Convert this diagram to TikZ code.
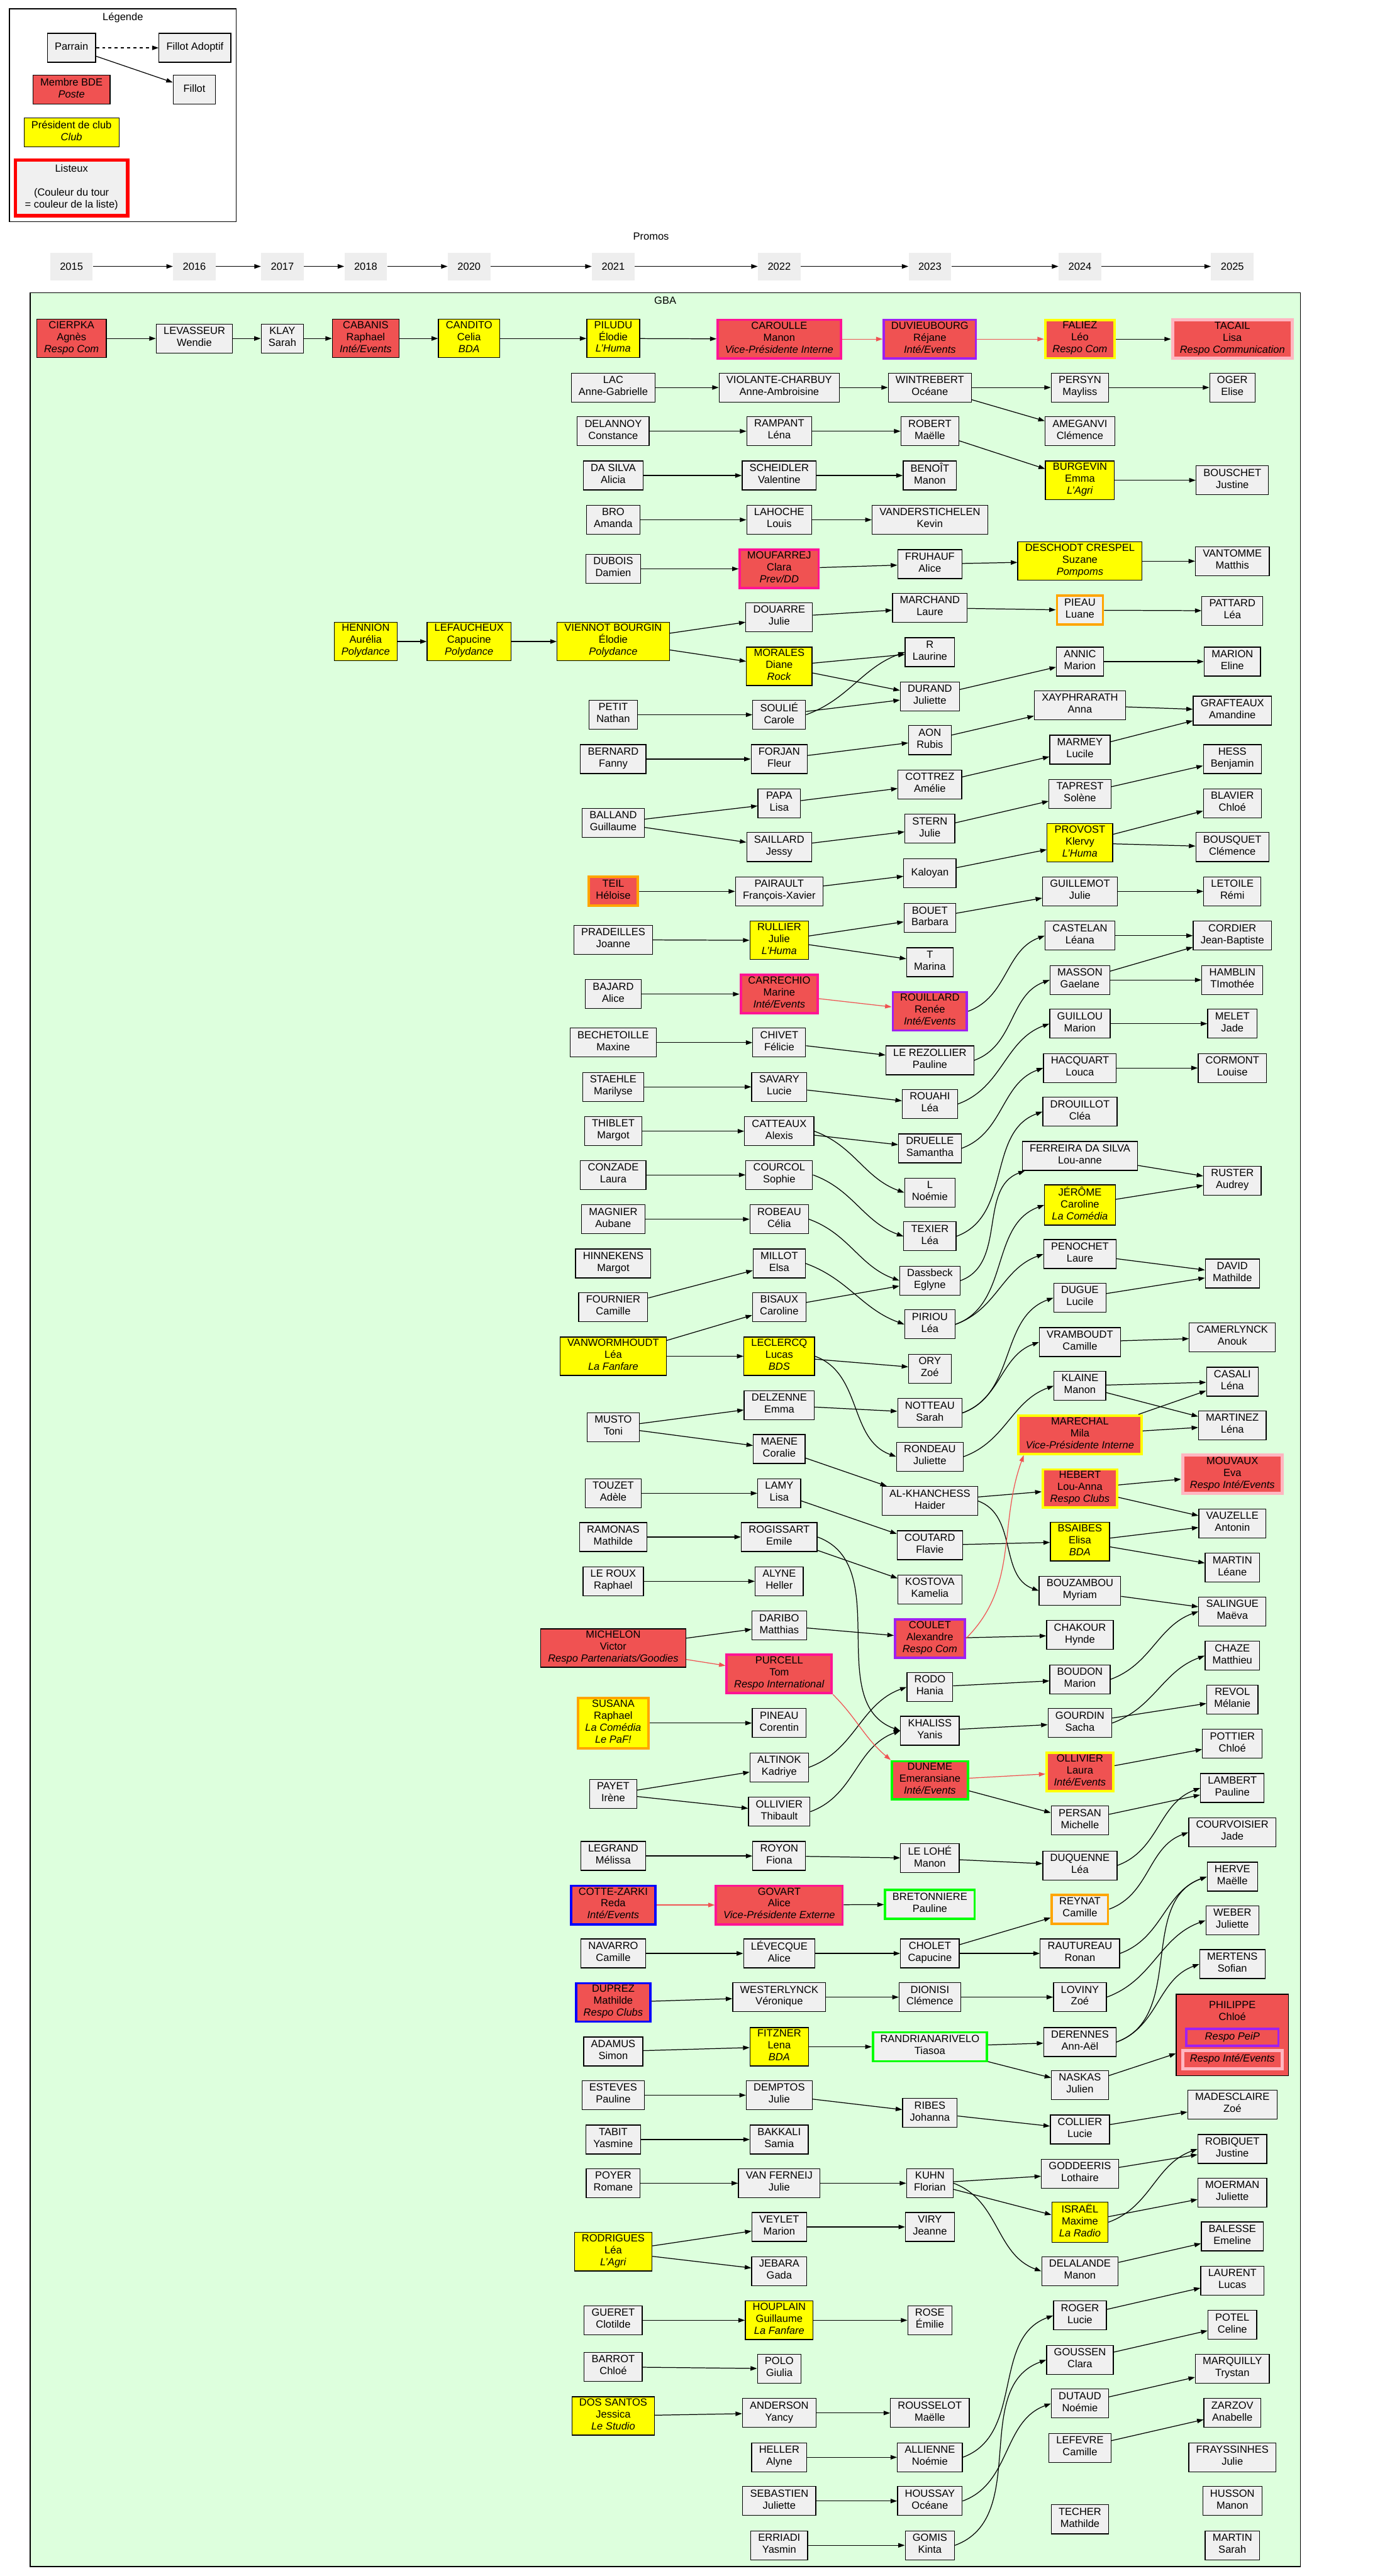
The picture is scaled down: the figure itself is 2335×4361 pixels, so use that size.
\documentclass[tikz,border=0pt]{standalone}
\usepackage{fontspec}
\setmainfont{Liberation Sans}
\usetikzlibrary{arrows.meta}
\definecolor{gbagreen}{RGB}{221,255,221}
\definecolor{boxgray}{RGB}{240,240,240}
\definecolor{promogray}{RGB}{238,238,238}
\definecolor{bdered}{RGB}{240,82,82}
\definecolor{clubyellow}{RGB}{255,255,0}
\definecolor{vppink}{RGB}{255,20,147}
\definecolor{listpurple}{RGB}{160,32,240}
\definecolor{listpink}{RGB}{255,182,193}
\definecolor{listorange}{RGB}{255,165,0}
\definecolor{listblue}{RGB}{0,0,255}
\definecolor{listgreen}{RGB}{0,255,0}
\definecolor{listred}{RGB}{255,0,0}
\newcommand{\gbafont}{\fontsize{10}{11.5}\selectfont}
\tikzset{
  person/.style     = {draw, line width=0.75pt, fill=boxgray, font=\gbafont, align=center,
                       minimum width=1.44cm, minimum height=0.98cm, inner xsep=0.25cm, inner ysep=1.8pt,
                       execute at begin node=\strut, execute at end node=\strut},
  bde/.style        = {person, fill=bdered},
  club/.style       = {person, fill=clubyellow},
  ringvp/.style     = {draw=vppink, line width=2.3pt},
  ringpurple/.style = {draw=listpurple, line width=2.3pt},
  ringyellow/.style = {draw=clubyellow, line width=2.3pt},
  ringpink/.style   = {draw=listpink, line width=3pt},
  ringorange/.style = {draw=listorange, line width=2.3pt},
  ringblue/.style   = {draw=listblue, line width=2.3pt},
  ringgreen/.style  = {draw=listgreen, line width=2.3pt},
  ringred/.style    = {draw=listred, line width=3.4pt},
  promo/.style      = {fill=promogray, font=\gbafont, minimum width=1.44cm, minimum height=0.94cm},
  filarrow/.style   = {-{Triangle[length=0.22cm,width=0.15cm]}, line width=0.75pt},
  bdearrow/.style   = {filarrow, draw=bdered},
  cup/.style        = {out=20, in=200},
  cdown/.style      = {out=-20, in=160},
}
\begin{document}
\begin{tikzpicture}[x=0.02cm, y=-0.02cm]
  \useasboundingbox (0,0) rectangle (2335,4361);

  % legend
  \draw[line width=0.75pt, fill=white] (16,15) rectangle (400,375);
  \node[font=\gbafont] (legendtitle) at (208,30) {Légende};
  \node[person] (parrain) at (121,81) {Parrain};
  \node[person] (fillotadoptif) at (330,81) {Fillot Adoptif};
  \node[person] (fillot) at (329,152) {Fillot};
  \node[bde] (membrebde) at (121,152) {Membre BDE\\\textit{Poste}};
  \node[club] (presclub) at (121,224) {Président de club\\\textit{Club}};
  \node[person, ringred, minimum width=3.8cm, minimum height=1.88cm] (listeux) at (121,318)
    {Listeux\\\mbox{}\\(Couleur du tour\\= couleur de la liste)};
  \draw[filarrow, dashed] (parrain) -- (fillotadoptif);
  \draw[filarrow] (parrain) -- (fillot);

  % promos
  \node[font=\gbafont] (promoslabel) at (1102,400) {Promos};
  \foreach \yr/\px in {2015/121, 2016/329, 2017/478, 2018/619, 2020/794, 2021/1038,
                       2022/1319, 2023/1574, 2024/1828, 2025/2086}
    \node[promo] (p\yr) at (\px,451) {\yr};
  \foreach \a/\b in {2015/2016, 2016/2017, 2017/2018, 2018/2020, 2020/2021,
                     2021/2022, 2022/2023, 2023/2024, 2024/2025}
    \draw[filarrow] (p\a) -- (p\b);

  % GBA cluster
  \draw[line width=0.75pt, fill=gbagreen] (51,496) rectangle (2201,4345);
  \node[font=\gbafont] (gbalabel) at (1126,509) {GBA};

  % 2015 - 2020
  \node[bde] (cierpka) at (121,573) {CIERPKA\\Agnès\\\textit{Respo Com}};
  \node[person] (levasseur) at (329,573) {LEVASSEUR\\Wendie};
  \node[person] (klay) at (478,573) {KLAY\\Sarah};
  \node[bde] (cabanis) at (619,573) {CABANIS\\Raphael\\\textit{Inté/Events}};
  \node[club] (hennion) at (619,1086) {HENNION\\Aurélia\\\textit{Polydance}};
  \node[club] (candito) at (794,573) {CANDITO\\Celia\\\textit{BDA}};
  \node[club] (lefaucheux) at (794,1086) {LEFAUCHEUX\\Capucine\\\textit{Polydance}};

  % 2021
  \node[club] (piludu) at (1038,573) {PILUDU\\Élodie\\\textit{L'Huma}};
  \node[person] (lac) at (1038,656) {LAC\\Anne-Gabrielle};
  \node[person] (delannoy) at (1038,730) {DELANNOY\\Constance};
  \node[person] (dasilva) at (1038,805) {DA SILVA\\Alicia};
  \node[person] (bro) at (1038,880) {BRO\\Amanda};
  \node[person] (dubois) at (1038,963) {DUBOIS\\Damien};
  \node[club] (viennot) at (1038,1086) {VIENNOT BOURGIN\\Élodie\\\textit{Polydance}};
  \node[person] (petit) at (1038,1210) {PETIT\\Nathan};
  \node[person] (bernard) at (1038,1285) {BERNARD\\Fanny};
  \node[person] (balland) at (1038,1393) {BALLAND\\Guillaume};
  \node[bde, ringorange] (teil) at (1038,1509) {TEIL\\Héloise};
  \node[person] (pradeilles) at (1038,1591) {PRADEILLES\\Joanne};
  \node[person] (bajard) at (1038,1683) {BAJARD\\Alice};
  \node[person] (bechetoille) at (1038,1765) {BECHETOILLE\\Maxine};
  \node[person] (staehle) at (1038,1840) {STAEHLE\\Marilyse};
  \node[person] (thiblet) at (1038,1915) {THIBLET\\Margot};
  \node[person] (conzade) at (1038,1989) {CONZADE\\Laura};
  \node[person] (magnier) at (1038,2064) {MAGNIER\\Aubane};
  \node[person] (hinnekens) at (1038,2139) {HINNEKENS\\Margot};
  \node[person] (fournier) at (1038,2213) {FOURNIER\\Camille};
  \node[club] (vanwormhoudt) at (1038,2296) {VANWORMHOUDT\\Léa\\\textit{La Fanfare}};
  \node[person] (musto) at (1038,2416) {MUSTO\\Toni};
  \node[person] (touzet) at (1038,2528) {TOUZET\\Adèle};
  \node[person] (ramonas) at (1038,2602) {RAMONAS\\Mathilde};
  \node[person] (leroux) at (1038,2677) {LE ROUX\\Raphael};
  \node[bde] (michelon) at (1038,2790) {MICHELON\\Victor\\\textit{Respo Partenariats/Goodies}};
  \node[club, ringorange] (susana) at (1038,2917) {SUSANA\\Raphael\\\textit{La Comédia}\\\textit{Le PaF!}};
  \node[person] (payet) at (1038,3037) {PAYET\\Irène};
  \node[person] (legrand) at (1038,3142) {LEGRAND\\Mélissa};
  \node[bde, ringblue] (cottezarki) at (1038,3225) {COTTE-ZARKI\\Reda\\\textit{Inté/Events}};
  \node[person] (navarro) at (1038,3307) {NAVARRO\\Camille};
  \node[bde, ringblue] (duprez) at (1038,3390) {DUPREZ\\Mathilde\\\textit{Respo Clubs}};
  \node[person] (adamus) at (1038,3473) {ADAMUS\\Simon};
  \node[person] (esteves) at (1038,3547) {ESTEVES\\Pauline};
  \node[person] (tabit) at (1038,3622) {TABIT\\Yasmine};
  \node[person] (poyer) at (1038,3696) {POYER\\Romane};
  \node[club] (rodrigues) at (1038,3812) {RODRIGUES\\Léa\\\textit{L'Agri}};
  \node[person] (gueret) at (1038,3928) {GUERET\\Clotilde};
  \node[person] (barrot) at (1038,4007) {BARROT\\Chloé};
  \node[club] (dossantos) at (1038,4090) {DOS SANTOS\\Jessica\\\textit{Le Studio}};

  % 2022
  \node[bde, ringvp] (caroulle) at (1319,574) {CAROULLE\\Manon\\\textit{Vice-Présidente Interne}};
  \node[person] (violante) at (1319,656) {VIOLANTE-CHARBUY\\Anne-Ambroisine};
  \node[person] (rampant) at (1319,730) {RAMPANT\\Léna};
  \node[person] (scheidler) at (1319,805) {SCHEIDLER\\Valentine};
  \node[person] (lahoche) at (1319,880) {LAHOCHE\\Louis};
  \node[bde, ringvp] (moufarrej) at (1319,963) {MOUFARREJ\\Clara\\\textit{Prev/DD}};
  \node[person] (douarre) at (1319,1045) {DOUARRE\\Julie};
  \node[club] (morales) at (1319,1128) {MORALES\\Diane\\\textit{Rock}};
  \node[person] (soulie) at (1319,1210) {SOULIÉ\\Carole};
  \node[person] (forjan) at (1319,1285) {FORJAN\\Fleur};
  \node[person] (papa) at (1319,1360) {PAPA\\Lisa};
  \node[person] (saillard) at (1319,1434) {SAILLARD\\Jessy};
  \node[person] (pairault) at (1319,1509) {PAIRAULT\\François-Xavier};
  \node[club] (rullier) at (1319,1592) {RULLIER\\Julie\\\textit{L'Huma}};
  \node[bde, ringvp] (carrechio) at (1319,1683) {CARRECHIO\\Marine\\\textit{Inté/Events}};
  \node[person] (chivet) at (1319,1765) {CHIVET\\Félicie};
  \node[person] (savary) at (1319,1840) {SAVARY\\Lucie};
  \node[person] (catteaux) at (1319,1915) {CATTEAUX\\Alexis};
  \node[person] (courcol) at (1319,1989) {COURCOL\\Sophie};
  \node[person] (robeau) at (1319,2064) {ROBEAU\\Célia};
  \node[person] (millot) at (1319,2139) {MILLOT\\Elsa};
  \node[person] (bisaux) at (1319,2213) {BISAUX\\Caroline};
  \node[club] (leclercq) at (1319,2296) {LECLERCQ\\Lucas\\\textit{BDS}};
  \node[person] (delzenne) at (1319,2379) {DELZENNE\\Emma};
  \node[person] (maene) at (1319,2453) {MAENE\\Coralie};
  \node[person] (lamy) at (1319,2528) {LAMY\\Lisa};
  \node[person] (rogissart) at (1319,2602) {ROGISSART\\Emile};
  \node[person] (alyne) at (1319,2677) {ALYNE\\Heller};
  \node[person] (daribo) at (1319,2752) {DARIBO\\Matthias};
  \node[bde, ringvp] (purcell) at (1319,2834) {PURCELL\\Tom\\\textit{Respo International}};
  \node[person] (pineau) at (1319,2917) {PINEAU\\Corentin};
  \node[person] (altinok) at (1319,2992) {ALTINOK\\Kadriye};
  \node[person] (ollivierthibault) at (1319,3067) {OLLIVIER\\Thibault};
  \node[person] (royon) at (1319,3142) {ROYON\\Fiona};
  \node[bde, ringvp] (govart) at (1319,3225) {GOVART\\Alice\\\textit{Vice-Présidente Externe}};
  \node[person] (levecque) at (1319,3307) {LÉVECQUE\\Alice};
  \node[person] (westerlynck) at (1319,3381) {WESTERLYNCK\\Véronique};
  \node[club] (fitzner) at (1319,3465) {FITZNER\\Lena\\\textit{BDA}};
  \node[person] (demptos) at (1319,3547) {DEMPTOS\\Julie};
  \node[person] (bakkali) at (1319,3622) {BAKKALI\\Samia};
  \node[person] (vanferneij) at (1319,3696) {VAN FERNEIJ\\Julie};
  \node[person] (veylet) at (1319,3770) {VEYLET\\Marion};
  \node[person] (jebara) at (1319,3845) {JEBARA\\Gada};
  \node[club] (houplain) at (1319,3928) {HOUPLAIN\\Guillaume\\\textit{La Fanfare}};
  \node[person] (polo) at (1319,4010) {POLO\\Giulia};
  \node[person] (anderson) at (1319,4085) {ANDERSON\\Yancy};
  \node[person] (heller) at (1319,4160) {HELLER\\Alyne};
  \node[person] (sebastien) at (1319,4234) {SEBASTIEN\\Juliette};
  \node[person] (erriadi) at (1319,4309) {ERRIADI\\Yasmin};

  % 2023
  \node[bde, ringpurple] (duvieubourg) at (1574,574) {DUVIEUBOURG\\Réjane\\\textit{Inté/Events}};
  \node[person] (wintrebert) at (1574,656) {WINTREBERT\\Océane};
  \node[person] (robert) at (1574,730) {ROBERT\\Maëlle};
  \node[person] (benoit) at (1574,805) {BENOÎT\\Manon};
  \node[person] (vanderstichelen) at (1574,880) {VANDERSTICHELEN\\Kevin};
  \node[person] (fruhauf) at (1574,955) {FRUHAUF\\Alice};
  \node[person] (marchand) at (1574,1029) {MARCHAND\\Laure};
  \node[person] (rlaurine) at (1574,1104) {R\\Laurine};
  \node[person] (durand) at (1574,1179) {DURAND\\Juliette};
  \node[person] (aon) at (1574,1253) {AON\\Rubis};
  \node[person] (cottrez) at (1574,1328) {COTTREZ\\Amélie};
  \node[person] (stern) at (1574,1403) {STERN\\Julie};
  \node[person] (kaloyan) at (1574,1478) {Kaloyan};
  \node[person] (bouet) at (1574,1554) {BOUET\\Barbara};
  \node[person] (tmarina) at (1574,1629) {T\\Marina};
  \node[bde, ringpurple] (rouillard) at (1574,1712) {ROUILLARD\\Renée\\\textit{Inté/Events}};
  \node[person] (lerezollier) at (1574,1795) {LE REZOLLIER\\Pauline};
  \node[person] (rouahi) at (1574,1869) {ROUAHI\\Léa};
  \node[person] (druelle) at (1574,1944) {DRUELLE\\Samantha};
  \node[person] (lnoemie) at (1574,2019) {L\\Noémie};
  \node[person] (texier) at (1574,2093) {TEXIER\\Léa};
  \node[person] (dassbeck) at (1574,2168) {Dassbeck\\Eglyne};
  \node[person] (piriou) at (1574,2242) {PIRIOU\\Léa};
  \node[person] (ory) at (1574,2317) {ORY\\Zoé};
  \node[person] (notteau) at (1574,2392) {NOTTEAU\\Sarah};
  \node[person] (rondeau) at (1574,2466) {RONDEAU\\Juliette};
  \node[person] (alkhanchess) at (1574,2541) {AL-KHANCHESS\\Haider};
  \node[person] (coutard) at (1574,2616) {COUTARD\\Flavie};
  \node[person] (kostova) at (1574,2691) {KOSTOVA\\Kamelia};
  \node[bde, ringpurple] (coulet) at (1574,2774) {COULET\\Alexandre\\\textit{Respo Com}};
  \node[person] (rodo) at (1574,2856) {RODO\\Hania};
  \node[person] (khaliss) at (1574,2930) {KHALISS\\Yanis};
  \node[bde, ringgreen] (duneme) at (1574,3014) {DUNEME\\Emeransiane\\\textit{Inté/Events}};
  \node[person] (lelohe) at (1574,3146) {LE LOHÉ\\Manon};
  \node[person, ringgreen] (bretonniere) at (1574,3224) {BRETONNIERE\\Pauline};
  \node[person] (cholet) at (1574,3307) {CHOLET\\Capucine};
  \node[person] (dionisi) at (1574,3381) {DIONISI\\Clémence};
  \node[person, ringgreen] (randrianarivelo) at (1574,3465) {RANDRIANARIVELO\\Tiasoa};
  \node[person] (ribes) at (1574,3577) {RIBES\\Johanna};
  \node[person] (kuhn) at (1574,3696) {KUHN\\Florian};
  \node[person] (viry) at (1574,3770) {VIRY\\Jeanne};
  \node[person] (rose) at (1574,3928) {ROSE\\Émilie};
  \node[person] (rousselot) at (1574,4085) {ROUSSELOT\\Maëlle};
  \node[person] (allienne) at (1574,4160) {ALLIENNE\\Noémie};
  \node[person] (houssay) at (1574,4234) {HOUSSAY\\Océane};
  \node[person] (gomis) at (1574,4309) {GOMIS\\Kinta};

  % 2024
  \node[bde, ringyellow] (faliez) at (1828,574) {FALIEZ\\Léo\\\textit{Respo Com}};
  \node[person] (persyn) at (1828,656) {PERSYN\\Mayliss};
  \node[person] (ameganvi) at (1828,730) {AMEGANVI\\Clémence};
  \node[club] (burgevin) at (1828,813) {BURGEVIN\\Emma\\\textit{L'Agri}};
  \node[club] (deschodt) at (1828,950) {DESCHODT CRESPEL\\Suzane\\\textit{Pompoms}};
  \node[person, ringorange] (pieau) at (1828,1033) {PIEAU\\Luane};
  \node[person] (annic) at (1828,1120) {ANNIC\\Marion};
  \node[person] (xayphrarath) at (1828,1194) {XAYPHRARATH\\Anna};
  \node[person] (marmey) at (1828,1269) {MARMEY\\Lucile};
  \node[person] (taprest) at (1828,1344) {TAPREST\\Solène};
  \node[club] (provost) at (1828,1427) {PROVOST\\Klervy\\\textit{L'Huma}};
  \node[person] (guillemot) at (1828,1509) {GUILLEMOT\\Julie};
  \node[person] (castelan) at (1828,1584) {CASTELAN\\Léana};
  \node[person] (masson) at (1828,1659) {MASSON\\Gaelane};
  \node[person] (guillou) at (1828,1733) {GUILLOU\\Marion};
  \node[person] (hacquart) at (1828,1808) {HACQUART\\Louca};
  \node[person] (drouillot) at (1828,1882) {DROUILLOT\\Cléa};
  \node[person] (ferreira) at (1828,1957) {FERREIRA DA SILVA\\Lou-anne};
  \node[club] (jerome) at (1828,2040) {JÉRÔME\\Caroline\\\textit{La Comédia}};
  \node[person] (penochet) at (1828,2123) {PENOCHET\\Laure};
  \node[person] (dugue) at (1828,2197) {DUGUE\\Lucile};
  \node[person] (vramboudt) at (1828,2272) {VRAMBOUDT\\Camille};
  \node[person] (klaine) at (1828,2346) {KLAINE\\Manon};
  \node[bde, ringyellow] (marechal) at (1828,2429) {MARECHAL\\Mila\\\textit{Vice-Présidente Interne}};
  \node[bde, ringyellow] (hebert) at (1828,2520) {HEBERT\\Lou-Anna\\\textit{Respo Clubs}};
  \node[club] (bsaibes) at (1828,2610) {BSAIBES\\Elisa\\\textit{BDA}};
  \node[person] (bouzambou) at (1828,2693) {BOUZAMBOU\\Myriam};
  \node[person] (chakour) at (1828,2768) {CHAKOUR\\Hynde};
  \node[person] (boudon) at (1828,2843) {BOUDON\\Marion};
  \node[person] (gourdin) at (1828,2917) {GOURDIN\\Sacha};
  \node[bde, ringyellow] (ollivierlaura) at (1828,3000) {OLLIVIER\\Laura\\\textit{Inté/Events}};
  \node[person] (persan) at (1828,3082) {PERSAN\\Michelle};
  \node[person] (duquenne) at (1828,3158) {DUQUENNE\\Léa};
  \node[person, ringorange] (reynat) at (1828,3232) {REYNAT\\Camille};
  \node[person] (rautureau) at (1828,3307) {RAUTUREAU\\Ronan};
  \node[person] (loviny) at (1828,3381) {LOVINY\\Zoé};
  \node[person] (derennes) at (1828,3457) {DERENNES\\Ann-Aël};
  \node[person] (naskas) at (1828,3530) {NASKAS\\Julien};
  \node[person] (collier) at (1828,3605) {COLLIER\\Lucie};
  \node[person] (goddeeris) at (1828,3680) {GODDEERIS\\Lothaire};
  \node[club] (israel) at (1828,3762) {ISRAËL\\Maxime\\\textit{La Radio}};
  \node[person] (delalande) at (1828,3845) {DELALANDE\\Manon};
  \node[person] (roger) at (1828,3920) {ROGER\\Lucie};
  \node[person] (goussen) at (1828,3995) {GOUSSEN\\Clara};
  \node[person] (dutaud) at (1828,4069) {DUTAUD\\Noémie};
  \node[person] (lefevre) at (1828,4144) {LEFEVRE\\Camille};
  \node[person] (techer) at (1828,4265) {TECHER\\Mathilde};

  % 2025
  \node[bde, ringpink] (tacail) at (2086,574) {TACAIL\\Lisa\\\textit{Respo Communication}};
  \node[person] (oger) at (2086,656) {OGER\\Elise};
  \node[person] (bouschet) at (2086,813) {BOUSCHET\\Justine};
  \node[person] (vantomme) at (2086,950) {VANTOMME\\Matthis};
  \node[person] (pattard) at (2086,1034) {PATTARD\\Léa};
  \node[person] (marion) at (2086,1120) {MARION\\Eline};
  \node[person] (grafteaux) at (2086,1203) {GRAFTEAUX\\Amandine};
  \node[person] (hess) at (2086,1285) {HESS\\Benjamin};
  \node[person] (blavier) at (2086,1360) {BLAVIER\\Chloé};
  \node[person] (bousquet) at (2086,1434) {BOUSQUET\\Clémence};
  \node[person] (letoile) at (2086,1509) {LETOILE\\Rémi};
  \node[person] (cordier) at (2086,1584) {CORDIER\\Jean-Baptiste};
  \node[person] (hamblin) at (2086,1659) {HAMBLIN\\TImothée};
  \node[person] (melet) at (2086,1733) {MELET\\Jade};
  \node[person] (cormont) at (2086,1808) {CORMONT\\Louise};
  \node[person] (ruster) at (2086,1999) {RUSTER\\Audrey};
  \node[person] (david) at (2086,2156) {DAVID\\Mathilde};
  \node[person] (camerlynck) at (2086,2264) {CAMERLYNCK\\Anouk};
  \node[person] (casali) at (2086,2339) {CASALI\\Léna};
  \node[person] (martinez) at (2086,2413) {MARTINEZ\\Léna};
  \node[bde, ringpink] (mouvaux) at (2086,2496) {MOUVAUX\\Eva\\\textit{Respo Inté/Events}};
  \node[person] (vauzelle) at (2086,2579) {VAUZELLE\\Antonin};
  \node[person] (martinleane) at (2086,2654) {MARTIN\\Léane};
  \node[person] (salingue) at (2086,2728) {SALINGUE\\Maëva};
  \node[person] (chaze) at (2086,2803) {CHAZE\\Matthieu};
  \node[person] (revol) at (2086,2877) {REVOL\\Mélanie};
  \node[person] (pottier) at (2086,2952) {POTTIER\\Chloé};
  \node[person] (lambert) at (2086,3027) {LAMBERT\\Pauline};
  \node[person] (courvoisier) at (2086,3102) {COURVOISIER\\Jade};
  \node[person] (herve) at (2086,3177) {HERVE\\Maëlle};
  \node[person] (weber) at (2086,3251) {WEBER\\Juliette};
  \node[person] (mertens) at (2086,3325) {MERTENS\\Sofian};
  \node[bde, minimum width=3.8cm, minimum height=2.76cm] (philippe) at (2086,3445) {};
  \node[font=\gbafont, align=center] (philippename) at (2086,3404) {PHILIPPE\\Chloé};
  \node[bde, ringpurple, minimum width=3.12cm, minimum height=0.58cm, inner ysep=0pt] (respopeip) at (2086,3449) {\textit{Respo PeiP}};
  \node[bde, ringpink, minimum width=3.12cm, minimum height=0.62cm, inner ysep=0pt] (respointe) at (2086,3487) {\textit{Respo Inté/Events}};
  \node[person] (madesclaire) at (2086,3563) {MADESCLAIRE\\Zoé};
  \node[person] (robiquet) at (2086,3638) {ROBIQUET\\Justine};
  \node[person] (moerman) at (2086,3712) {MOERMAN\\Juliette};
  \node[person] (balesse) at (2086,3786) {BALESSE\\Emeline};
  \node[person] (laurent) at (2086,3861) {LAURENT\\Lucas};
  \node[person] (potel) at (2086,3936) {POTEL\\Celine};
  \node[person] (marquilly) at (2086,4010) {MARQUILLY\\Trystan};
  \node[person] (zarzov) at (2086,4085) {ZARZOV\\Anabelle};
  \node[person] (frayssinhes) at (2086,4160) {FRAYSSINHES\\Julie};
  \node[person] (husson) at (2086,4234) {HUSSON\\Manon};
  \node[person] (martinsarah) at (2086,4309) {MARTIN\\Sarah};

  % parrainages, straight
  \foreach \a/\b in {cierpka/levasseur, levasseur/klay, klay/cabanis, cabanis/candito,
      candito/piludu, piludu/caroulle, hennion/lefaucheux, lefaucheux/viennot,
      lac/violante, delannoy/rampant, dasilva/scheidler, bro/lahoche, dubois/moufarrej,
      viennot/douarre, viennot/morales, petit/soulie, bernard/forjan, balland/papa,
      balland/saillard, teil/pairault, pradeilles/rullier, bajard/carrechio,
      bechetoille/chivet, staehle/savary, thiblet/catteaux, conzade/courcol,
      magnier/robeau, fournier/millot, vanwormhoudt/bisaux, vanwormhoudt/leclercq,
      musto/delzenne, musto/maene, touzet/lamy, ramonas/rogissart, leroux/alyne,
      michelon/daribo, susana/pineau, payet/altinok, payet/ollivierthibault,
      legrand/royon, navarro/levecque, duprez/westerlynck, adamus/fitzner,
      esteves/demptos, tabit/bakkali, poyer/vanferneij, rodrigues/veylet,
      rodrigues/jebara, gueret/houplain, barrot/polo, dossantos/anderson}
    \draw[filarrow] (\a) -- (\b);
  \foreach \a/\b in {violante/wintrebert, rampant/robert, scheidler/benoit,
      lahoche/vanderstichelen, moufarrej/fruhauf, douarre/marchand, morales/rlaurine,
      morales/durand, soulie/durand, forjan/aon, papa/cottrez, saillard/stern,
      pairault/kaloyan, rullier/bouet, rullier/tmarina, chivet/lerezollier,
      savary/rouahi, catteaux/druelle, bisaux/dassbeck, leclercq/ory,
      delzenne/notteau, maene/alkhanchess, lamy/coutard, rogissart/kostova,
      daribo/coulet, royon/lelohe, govart/bretonniere, levecque/cholet,
      westerlynck/dionisi, fitzner/randrianarivelo, demptos/ribes, vanferneij/kuhn,
      veylet/viry, houplain/rose, anderson/rousselot, heller/allienne,
      sebastien/houssay, erriadi/gomis}
    \draw[filarrow] (\a) -- (\b);
  \foreach \a/\b in {wintrebert/persyn, wintrebert/ameganvi, robert/burgevin,
      fruhauf/deschodt, marchand/pieau, durand/annic, aon/xayphrarath, cottrez/marmey,
      stern/taprest, kaloyan/provost, bouet/guillemot, alkhanchess/hebert,
      coutard/bsaibes, coulet/chakour, rodo/boudon, khaliss/gourdin, duneme/persan,
      lelohe/duquenne, cholet/reynat, cholet/rautureau, dionisi/loviny,
      randrianarivelo/derennes, randrianarivelo/naskas, ribes/collier,
      kuhn/goddeeris, kuhn/israel}
    \draw[filarrow] (\a) -- (\b);
  \foreach \a/\b in {faliez/tacail, persyn/oger, burgevin/bouschet, deschodt/vantomme,
      pieau/pattard, annic/marion, xayphrarath/grafteaux, marmey/grafteaux,
      taprest/hess, provost/blavier, provost/bousquet, guillemot/letoile,
      castelan/cordier, masson/cordier, masson/hamblin, guillou/melet,
      hacquart/cormont, ferreira/ruster, jerome/ruster, penochet/david, dugue/david,
      vramboudt/camerlynck, klaine/casali, klaine/martinez, marechal/casali,
      marechal/martinez, hebert/mouvaux, hebert/vauzelle, bsaibes/vauzelle,
      bsaibes/martinleane, bouzambou/salingue, gourdin/revol, ollivierlaura/pottier,
      persan/lambert, naskas/philippe, collier/madesclaire, goddeeris/robiquet,
      israel/moerman, delalande/balesse, roger/laurent, goussen/potel,
      dutaud/marquilly, lefevre/zarzov}
    \draw[filarrow] (\a) -- (\b);

  % parrainages, curved
  \foreach \a/\b in {soulie/rlaurine, altinok/rodo, ollivierthibault/khaliss,
      rouillard/castelan, lerezollier/masson, rouahi/guillou, druelle/hacquart,
      texier/drouillot, piriou/jerome, piriou/penochet, notteau/dugue,
      notteau/vramboudt, rondeau/klaine, allienne/roger, houssay/dutaud,
      gomis/goussen, boudon/salingue, gourdin/chaze, duquenne/lambert,
      reynat/courvoisier, rautureau/herve, loviny/weber, derennes/herve,
      derennes/mertens, israel/robiquet}
    \draw[filarrow] (\a.east) to[cup] (\b.west);
  \foreach \a/\b in {catteaux/lnoemie, courcol/texier, robeau/dassbeck, millot/piriou,
      leclercq/rondeau, rogissart/khaliss, alkhanchess/bouzambou, kuhn/delalande}
    \draw[filarrow] (\a.east) to[cdown] (\b.west);
  \draw[filarrow] (dassbeck.east) to[cup] ([xshift=0.1cm]ferreira.south west);

  % lignee BDE
  \foreach \a/\b in {caroulle/duvieubourg, duvieubourg/faliez, michelon/purcell,
      cottezarki/govart, carrechio/rouillard, duneme/ollivierlaura}
    \draw[bdearrow] (\a) -- (\b);
  \draw[bdearrow] (purcell.south east) to[out=-45, in=140] (duneme.north west);
  \draw[bdearrow] (coulet.east) to[out=45, in=250] ([xshift=0.22cm]marechal.south west);
\end{tikzpicture}
\end{document}
